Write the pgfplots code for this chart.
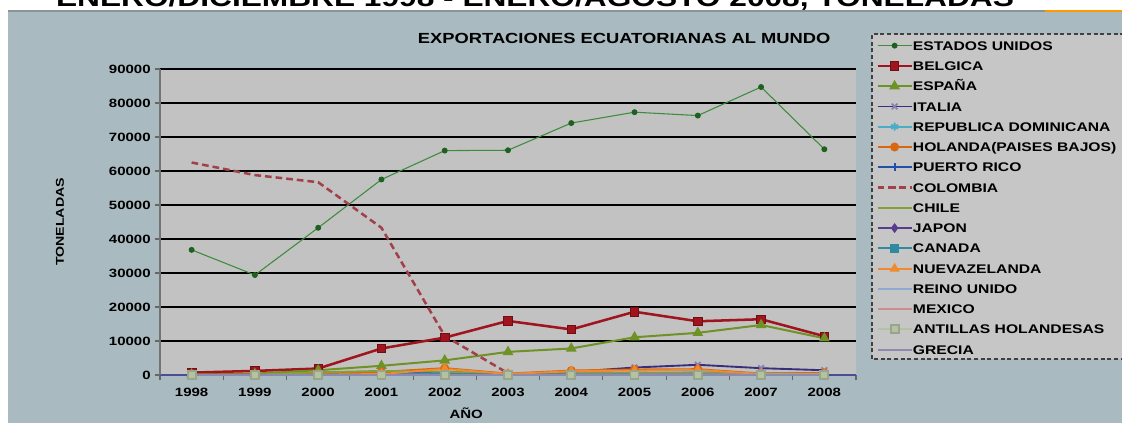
\documentclass[border=0pt]{standalone}
\usepackage{fontspec}
\setmainfont{Liberation Sans}[FakeStretch=1.25]
\usepackage{pgfplots}
\pgfplotsset{compat=1.18}

\definecolor{bgblue}{HTML}{AABAC1}
\definecolor{plotgray}{HTML}{C2C2C2}
\definecolor{leggray}{HTML}{C6C6C6}
\definecolor{cEEUU}{HTML}{3C8C3C}
\definecolor{cEEUUm}{HTML}{1F5F1F}
\definecolor{cBEL}{HTML}{A0141E}
\definecolor{cESP}{HTML}{6E9226}
\definecolor{cITA}{HTML}{3C2C7C}
\definecolor{cRDO}{HTML}{4BACC6}
\definecolor{cHOL}{HTML}{D8670F}
\definecolor{cPRI}{HTML}{2050A8}
\definecolor{cCOL}{HTML}{A3414A}
\definecolor{cCHI}{HTML}{84A03C}
\definecolor{cJAP}{HTML}{5A3C8C}
\definecolor{cCAN}{HTML}{2F8AA0}
\definecolor{cNZE}{HTML}{F08A30}
\definecolor{cRUN}{HTML}{8EAAD0}
\definecolor{cMEX}{HTML}{D08C8C}
\definecolor{cANT}{HTML}{B4C2A2}
\definecolor{cGRE}{HTML}{8C8AB0}

\begin{document}
\begin{tikzpicture}[x=0.75pt,y=0.75pt]
\useasboundingbox (0,0) rectangle (1122,423);
\fill[white] (0,0) rectangle (1122,423);
\fill[bgblue] (8,0) rectangle (1122,413);
\draw[bgblue!80!black,line width=1.5pt] (8,412) -- (1122,412);
\draw[orange!80!yellow,line width=2pt] (1045,412) -- (1122,412);
\node[anchor=base,font=\fontsize{19}{19}\selectfont\bfseries] at (535,416)
  {ENERO/DICIEMBRE 1998 - ENERO/AGOSTO 2008, TONELADAS};
% legend frame
\filldraw[fill=leggray,draw=black!75,densely dashed,line width=0.8pt]
  (872,64) rectangle (1140,389);

\begin{axis}[
  at={(120pt,36pt)}, anchor=south west,
  scale only axis, width=522pt, height=229.5pt,
  xmin=1997.5, xmax=2008.5, ymin=0, ymax=90000,
  axis background/.style={fill=plotgray},
  axis x line*=bottom, axis y line*=left,
  axis line style={draw=black!55,line width=1.5pt},
  x axis line style={draw=black!60!blue!70,line width=1.2pt},
  xtick={1998,...,2008},
  xticklabels={1998,1999,2000,2001,2002,2003,2004,2005,2006,2007,2008},
  minor xtick={1997.5,1998.5,...,2008.5},
  x tick style={draw=none},
  minor x tick style={draw=black!60,line width=0.8pt},
  minor tick length=4pt,
  ytick={0,10000,...,90000},
  y tick style={draw=black!60,line width=0.8pt},
  major tick length=4pt,
  tick align=outside,
  ymajorgrids, grid style={draw=black,line width=0.8pt},
  scaled ticks=false,
  /pgf/number format/1000 sep={},
  /pgf/number format/assume math mode=true,
  tick label style={font=\fontsize{9}{9}\selectfont\bfseries},
  yticklabel style={xshift=0.5pt},
  xticklabel style={yshift=-2pt},
  title={EXPORTACIONES ECUATORIANAS AL MUNDO},
  title style={at={(axis description cs:0.667,1.075)},anchor=center,
    font=\fontsize{11}{11}\selectfont\bfseries},
  xlabel={AÑO},
  xlabel style={at={(axis description cs:0.44,-0.124)},anchor=center,
    font=\fontsize{9}{9}\selectfont\bfseries},
  ylabel={TONELADAS},
  ylabel style={at={(axis description cs:-0.1437,0.5)},anchor=center,
    font=\fontsize{8.5}{8.5}\selectfont\bfseries},
  legend cell align=left,
  legend style={at={(axis description cs:1.023,1.114)},anchor=north west,
    draw=none,fill=none,
    font=\fontsize{9.4}{9.4}\selectfont\bfseries,
    row sep=8.3pt, inner xsep=3pt, inner ysep=5pt,
    nodes={inner sep=0pt,text height=6.9pt,text depth=0pt}},
  legend image code/.code={\draw[mark repeat=2,mark phase=2]
    plot coordinates {(0cm,0cm) (0.45cm,0cm) (0.9cm,0cm)};},
  clip=false,
]
% ESTADOS UNIDOS
\addplot[cEEUU,line width=0.8pt,mark=*,mark size=1.8pt,
  mark options={solid,fill=cEEUUm,draw=cEEUUm}] coordinates {
  (1998,36800) (1999,29400) (2000,43300) (2001,57500) (2002,66000)
  (2003,66100) (2004,74100) (2005,77300) (2006,76300) (2007,84700) (2008,66400)};
\addlegendentry{ESTADOS UNIDOS}
% BELGICA
\addplot[cBEL,line width=1.9pt,mark=square*,mark size=3.2pt,
  mark options={solid,fill=cBEL,draw=cBEL!70!black,line width=0.6pt}] coordinates {
  (1998,700) (1999,1200) (2000,1900) (2001,7800) (2002,11000)
  (2003,15900) (2004,13400) (2005,18600) (2006,15800) (2007,16400) (2008,11400)};
\addlegendentry{BELGICA}
% ESPAÑA
\addplot[cESP,line width=1.5pt,mark=triangle*,mark size=3.2pt,
  mark options={solid,fill=cESP}] coordinates {
  (1998,200) (1999,400) (2000,1400) (2001,2700) (2002,4300)
  (2003,6800) (2004,7800) (2005,11100) (2006,12400) (2007,14700) (2008,10800)};
\addlegendentry{ESPAÑA}
% ITALIA
\addplot[cITA,line width=1.4pt,mark=x,mark size=3pt,
  mark options={solid,draw=cITA!60}] coordinates {
  (1998,100) (1999,100) (2000,200) (2001,500) (2002,800)
  (2003,300) (2004,900) (2005,2200) (2006,3000) (2007,2000) (2008,1400)};
\addlegendentry{ITALIA}
% REPUBLICA DOMINICANA
\addplot[cRDO,line width=1.4pt,mark=asterisk,mark size=3pt,
  mark options={solid}] coordinates {
  (1998,0) (1999,0) (2000,100) (2001,300) (2002,500)
  (2003,200) (2004,500) (2005,600) (2006,800) (2007,600) (2008,500)};
\addlegendentry{REPUBLICA DOMINICANA}
% HOLANDA
\addplot[cHOL,line width=1.5pt,mark=*,mark size=2.6pt,
  mark options={solid,fill=cHOL}] coordinates {
  (1998,100) (1999,200) (2000,300) (2001,900) (2002,2000)
  (2003,400) (2004,1300) (2005,1600) (2006,1700) (2007,400) (2008,600)};
\addlegendentry{HOLANDA(PAISES BAJOS)}
% PUERTO RICO
\addplot[cPRI,line width=1.4pt,mark=+,mark size=3pt,
  mark options={solid}] coordinates {
  (1998,0) (1999,0) (2000,0) (2001,100) (2002,100)
  (2003,100) (2004,200) (2005,300) (2006,300) (2007,200) (2008,300)};
\addlegendentry{PUERTO RICO}
% COLOMBIA
\addplot[cCOL,line width=1.9pt,dash pattern=on 5pt off 3pt] coordinates {
  (1998,62500) (1999,58800) (2000,56700) (2001,43300) (2002,11500) (2003,500)};
\addlegendentry{COLOMBIA}
% CHILE
\addplot[cCHI,line width=1.4pt] coordinates {
  (1998,0) (1999,100) (2000,800) (2001,1200) (2002,1000)
  (2003,400) (2004,500) (2005,700) (2006,600) (2007,500) (2008,400)};
\addlegendentry{CHILE}
% JAPON
\addplot[cJAP,line width=1.4pt,mark=diamond*,mark size=2.6pt,
  mark options={solid,fill=cJAP}] coordinates {
  (1998,0) (1999,0) (2000,0) (2001,0) (2002,100)
  (2003,100) (2004,100) (2005,200) (2006,200) (2007,100) (2008,100)};
\addlegendentry{JAPON}
% CANADA
\addplot[cCAN,line width=1.4pt,mark=square*,mark size=2.6pt,
  mark options={solid,fill=cCAN}] coordinates {
  (1998,0) (1999,0) (2000,0) (2001,100) (2002,100)
  (2003,100) (2004,100) (2005,200) (2006,200) (2007,100) (2008,100)};
\addlegendentry{CANADA}
% NUEVA ZELANDA
\addplot[cNZE,line width=1.4pt,mark=triangle*,mark size=3pt,
  mark options={solid,fill=cNZE}] coordinates {
  (1998,0) (1999,0) (2000,100) (2001,300) (2002,1800)
  (2003,300) (2004,1100) (2005,1300) (2006,1500) (2007,300) (2008,300)};
\addlegendentry{NUEVAZELANDA}
% REINO UNIDO
\addplot[cRUN,line width=1.4pt] coordinates {
  (1998,0) (1999,0) (2000,0) (2001,0) (2002,100)
  (2003,0) (2004,100) (2005,100) (2006,100) (2007,100) (2008,100)};
\addlegendentry{REINO UNIDO}
% MEXICO
\addplot[cMEX,line width=1.4pt] coordinates {
  (1998,0) (1999,0) (2000,0) (2001,0) (2002,0)
  (2003,0) (2004,0) (2005,100) (2006,100) (2007,100) (2008,100)};
\addlegendentry{MEXICO}
% ANTILLAS HOLANDESAS
\addplot[cANT,line width=1.4pt,mark=square*,mark size=3pt,
  mark options={solid,fill=cANT,draw=cANT!85!black}] coordinates {
  (1998,0) (1999,0) (2000,0) (2001,0) (2002,0)
  (2003,0) (2004,0) (2005,0) (2006,0) (2007,0) (2008,0)};
\addlegendentry{ANTILLAS HOLANDESAS}
% GRECIA
\addplot[cGRE,line width=1.4pt] coordinates {
  (1998,0) (1999,0) (2000,0) (2001,0) (2002,0)
  (2003,0) (2004,0) (2005,0) (2006,0) (2007,0) (2008,0)};
\addlegendentry{GRECIA}
\end{axis}
\end{tikzpicture}
\end{document}
